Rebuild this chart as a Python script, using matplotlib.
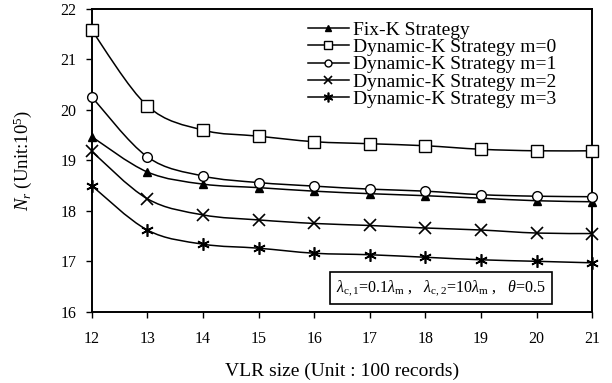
import numpy as np
import matplotlib
matplotlib.use('Agg')
import matplotlib.pyplot as plt
from matplotlib.path import Path
from matplotlib.patches import PathPatch

plt.rcParams['font.family'] = ['Liberation Serif', 'DejaVu Serif']
plt.rcParams['mathtext.fontset'] = 'custom'
plt.rcParams['mathtext.rm'] = 'Liberation Serif'
plt.rcParams['mathtext.it'] = 'Liberation Serif:italic'

# data
vlr_size = [12, 13, 14, 15, 16, 17, 18, 19, 20, 21]
fix_k = [19.47, 18.77, 18.53, 18.46, 18.39, 18.34, 18.30, 18.25, 18.20, 18.18]
dyn_m0 = [21.58, 20.08, 19.60, 19.48, 19.37, 19.33, 19.29, 19.22, 19.19, 19.19]
dyn_m1 = [20.26, 19.07, 18.69, 18.56, 18.49, 18.43, 18.39, 18.32, 18.29, 18.28]
dyn_m2 = [19.18, 18.24, 17.92, 17.82, 17.75, 17.71, 17.66, 17.62, 17.56, 17.55]
dyn_m3 = [18.50, 17.62, 17.34, 17.26, 17.16, 17.13, 17.08, 17.03, 17.00, 16.97]

labels = ['Fix-K Strategy', 'Dynamic-K Strategy m=0', 'Dynamic-K Strategy m=1',
          'Dynamic-K Strategy m=2', 'Dynamic-K Strategy m=3']
series = [fix_k, dyn_m0, dyn_m1, dyn_m2, dyn_m3]
styles = [dict(marker='^', ms=6, mfc='black'),
          dict(marker='s', ms=8, mfc='white'),
          dict(marker='o', ms=7, mfc='white'),
          dict(marker='x', ms=8, mew=1.2),
          dict(marker=(6, 2, 0), ms=9, mew=1.2)]
legend_ms = [5, 6, 5, 6, 7]


def smooth_path(x, y):
    # Excel-like smoothed line as cubic bezier segments
    x = np.asarray(x, float)
    y = np.asarray(y, float)
    verts = [(x[0], y[0])]
    codes = [Path.MOVETO]
    n = len(x)
    for i in range(n - 1):
        p0 = (x[max(i - 1, 0)], y[max(i - 1, 0)])
        p1 = (x[i], y[i])
        p2 = (x[i + 1], y[i + 1])
        p3 = (x[min(i + 2, n - 1)], y[min(i + 2, n - 1)])
        c1 = (p1[0] + (p2[0] - p0[0]) / 6, p1[1] + (p2[1] - p0[1]) / 6)
        c2 = (p2[0] - (p3[0] - p1[0]) / 6, p2[1] - (p3[1] - p1[1]) / 6)
        verts += [c1, c2, p2]
        codes += [Path.CURVE4] * 3
    return Path(verts, codes)


fig = plt.figure(figsize=(6.12, 3.83), dpi=100)
ax = fig.add_axes([0.1498, 0.186, 0.818, 0.7905])

for vals, lab, st, lms in zip(series, labels, styles, legend_ms):
    ax.add_patch(PathPatch(smooth_path(vlr_size, vals), fill=False, lw=1.1,
                           edgecolor='black', zorder=2))
    ax.plot(vlr_size, vals, ls='none', color='black', mec='black', zorder=3,
            clip_on=False, **st)
    st2 = dict(st)
    st2['ms'] = lms
    ax.plot([], [], color='black', lw=1.1, label=lab, **st2)

ax.set_xlim(12, 21)
ax.set_ylim(16, 22)
ax.set_xticks(vlr_size)
ax.set_yticks(range(16, 23))
ax.tick_params(direction='out', length=4, width=1, labelsize=11.5)
ax.tick_params(axis='x', pad=10)
ax.tick_params(axis='y', pad=7)
for sp in ax.spines.values():
    sp.set_linewidth(1.4)

ax.set_xlabel('VLR size (Unit : 100 records)', fontsize=14, labelpad=11)
ax.set_ylabel(r'$N_r$ (Unit:10$^5$)', fontsize=13.5, labelpad=19)

leg = ax.legend(loc='upper left', bbox_to_anchor=(0.404, 1.004), frameon=False,
                fontsize=14, handlelength=2.15, handletextpad=0.2,
                labelspacing=-0.02, borderpad=0.2)

ax.text(0.698, 0.078,
        r'$\lambda_{\mathrm{c,1}}$=0.1$\lambda_{\mathrm{m}}$ ,   '
        r'$\lambda_{\mathrm{c,2}}$=10$\lambda_{\mathrm{m}}$ ,   $\theta$=0.5',
        transform=ax.transAxes, ha='center', va='center', fontsize=11.5,
        bbox=dict(boxstyle='square,pad=0.4', fc='white', ec='black', lw=1.2))

fig.savefig('out.png', dpi=100)
